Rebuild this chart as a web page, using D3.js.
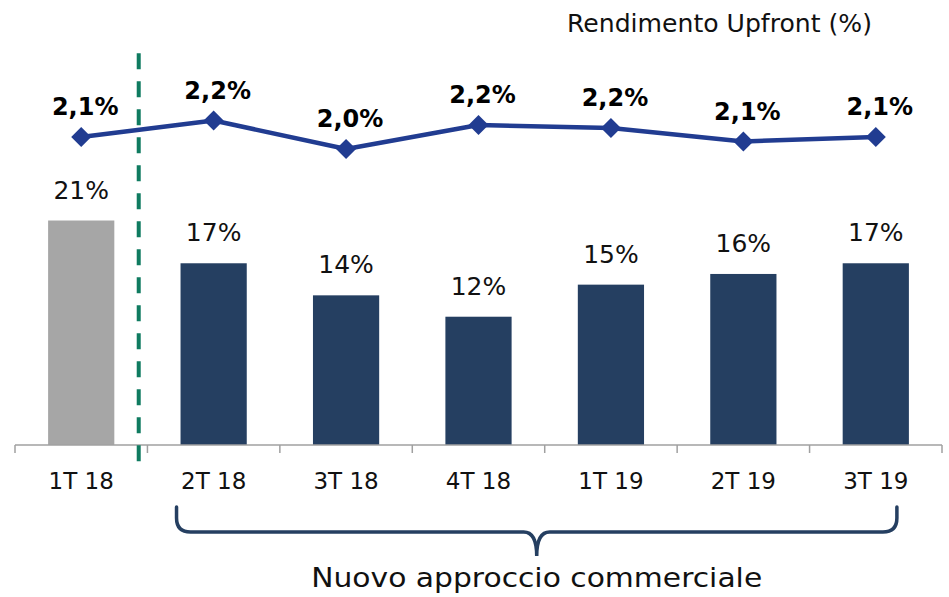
<!DOCTYPE html>
<html>
<head>
<meta charset="utf-8">
<script src="https://cdn.jsdelivr.net/npm/d3@7"></script>
<style>
  html, body { margin: 0; padding: 0; background: #fff; }
  svg { display: block; font-family: "DejaVu Sans", sans-serif; }
</style>
</head>
<body>
<svg id="chart" width="949" height="597"></svg>
<script>
// ---- data ----
const categories = ["1T 18", "2T 18", "3T 18", "4T 18", "1T 19", "2T 19", "3T 19"];
const barValues = [21, 17, 14, 12, 15, 16, 17];           // %
const upfrontYield = [2.11, 2.22, 2.03, 2.19, 2.17, 2.08, 2.11]; // %
const legacyCategories = ["1T 18"];
const lineTitle = "Rendimento Upfront (%)";
const braceLabel = "Nuovo approccio commerciale";

(function () {
// ---- layout ----
const baseY = 445;
const svg = d3.select("#chart");

const x = d3.scaleBand().domain(categories).range([15, 942])
  .paddingInner(0.5).paddingOuter(0.25);
const y = d3.scaleLinear().domain([0, 40]).range([baseY, baseY - 40 * 10.69]);
const y2 = d3.scaleLinear().domain([2.0, 2.2]).range([153.5, 123.5]);

const navy = "#253f61", grey = "#a6a6a6", lineBlue = "#213c91", teal = "#0f7b60";

// bars
svg.append("g").selectAll("rect").data(categories).join("rect")
  .attr("x", d => x(d))
  .attr("y", (d, i) => y(barValues[i]))
  .attr("width", x.bandwidth())
  .attr("height", (d, i) => y(0) - y(barValues[i]))
  .attr("fill", d => legacyCategories.includes(d) ? grey : navy);

// bar labels
svg.append("g").selectAll("text").data(categories).join("text")
  .attr("x", d => x(d) + x.bandwidth() / 2)
  .attr("y", (d, i) => y(barValues[i]) - 22)
  .attr("text-anchor", "middle")
  .attr("font-size", 25)
  .attr("fill", "#111")
  .text((d, i) => barValues[i] + "%");

// x axis
const gx = svg.append("g").attr("transform", `translate(0,${baseY})`);
gx.append("line").attr("x1", 15).attr("x2", 942).attr("y1", 0).attr("y2", 0)
  .attr("stroke", "#a0a0a0").attr("stroke-width", 1.5);
const boundaries = d3.range(categories.length + 1).map(i => 15 + i * x.step());
gx.selectAll("line.tk").data(boundaries).join("line").attr("class", "tk")
  .attr("x1", d => d).attr("x2", d => d).attr("y1", 0).attr("y2", 8)
  .attr("stroke", "#a0a0a0").attr("stroke-width", 1.5);
gx.selectAll("text.cat").data(categories).join("text").attr("class", "cat")
  .attr("x", d => x(d) + x.bandwidth() / 2)
  .attr("y", 44)
  .attr("text-anchor", "middle")
  .attr("font-size", 23)
  .attr("fill", "#111")
  .text(d => d);

// dashed separator
const sepX = x(legacyCategories[0]) + x.bandwidth() + 24.4;
svg.append("line").attr("x1", sepX).attr("x2", sepX).attr("y1", 53.3).attr("y2", 462)
  .attr("stroke", teal).attr("stroke-width", 4).attr("stroke-dasharray", "16,12");

// line series
const cx = d => x(d) + x.bandwidth() / 2;
const lineGen = d3.line().x((d, i) => cx(categories[i])).y(d => y2(d));
svg.append("path").datum(upfrontYield)
  .attr("d", lineGen).attr("fill", "none")
  .attr("stroke", lineBlue).attr("stroke-width", 4.5).attr("stroke-linejoin", "round");
const diamond = "M0,-10L10,0L0,10L-10,0Z";
svg.append("g").selectAll("path").data(upfrontYield).join("path")
  .attr("d", diamond)
  .attr("transform", (d, i) => `translate(${cx(categories[i])},${y2(d)})`)
  .attr("fill", lineBlue);
const fmt = v => d3.format(".1f")(v).replace(".", ",") + "%";
svg.append("g").selectAll("text").data(upfrontYield).join("text")
  .attr("x", (d, i) => cx(categories[i]) + 4)
  .attr("y", d => y2(d) - 22)
  .attr("text-anchor", "middle")
  .attr("font-size", 24)
  .attr("font-weight", "bold")
  .attr("fill", "#000")
  .text(fmt);

// title
svg.append("text").attr("x", 567).attr("y", 32)
  .attr("font-size", 25).attr("fill", "#111")
  .attr("textLength", 305).attr("lengthAdjust", "spacingAndGlyphs")
  .text(lineTitle);

// brace
const bl = x(categories[1]) - 4, br = x(categories[categories.length - 1]) + x.bandwidth() - 12;
const bm = (bl + br) / 2, bTop = 507, bMid = 532, bTip = 556;
const p = d3.path();
p.moveTo(bl, bTop); p.lineTo(bl, bMid - 14);
p.quadraticCurveTo(bl, bMid, bl + 14, bMid);
p.lineTo(bm - 13, bMid);
p.quadraticCurveTo(bm, bMid, bm, bTip);
p.quadraticCurveTo(bm, bMid, bm + 13, bMid);
p.lineTo(br - 14, bMid);
p.quadraticCurveTo(br, bMid, br, bMid - 14);
p.lineTo(br, bTop);
svg.append("path").attr("d", p.toString()).attr("fill", "none")
  .attr("stroke", navy).attr("stroke-width", 3.5).attr("stroke-linecap", "round");

svg.append("text").attr("x", bm).attr("y", 587)
  .attr("text-anchor", "middle").attr("font-size", 27).attr("fill", "#111")
  .attr("textLength", 451).attr("lengthAdjust", "spacingAndGlyphs")
  .text(braceLabel);
})();
</script>
</body>
</html>
